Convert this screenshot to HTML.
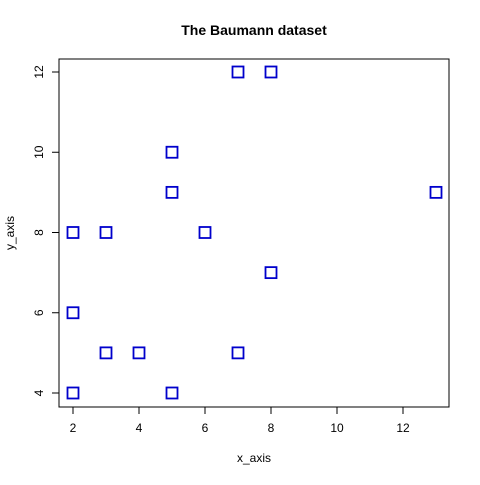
<!DOCTYPE html>
<html><head><meta charset="utf-8"><style>body{margin:0;background:#fff}svg{font-family:"Liberation Sans",sans-serif}</style></head>
<body>
<svg id="c" width="480" height="480">
<rect x="59" y="59" width="390" height="348" fill="none" stroke="#000"/>
<text x="254" y="35" text-anchor="middle" font-weight="bold" font-size="14">The Baumann dataset</text>
<text x="254" y="462" text-anchor="middle" font-size="12">x_axis</text>
<text transform="translate(14,233) rotate(-90)" text-anchor="middle" font-size="12">y_axis</text>
<g id="ax"></g><g id="pts"></g>
</svg>
<script>
const xs=[2,3,4,5,5,5,7,8,6,2,2,3,7,8,13];
const ys=[4,5,5,10,9,4,12,12,8,8,6,8,5,7,9];
const xTicks=[2,4,6,8,10,12];
const yTicks=[4,6,8,10,12];
const X=v=>73+(v-2)*33;
const Y=v=>393-(v-4)*40.125;
const ns="http://www.w3.org/2000/svg";
const ax=document.getElementById('ax'),pts=document.getElementById('pts');
function mk(t,a,p){const e=document.createElementNS(ns,t);for(const k in a)e.setAttribute(k,a[k]);p.appendChild(e);return e;}
mk('line',{x1:X(2),x2:X(12),y1:407,y2:407,stroke:'#000'},ax);
mk('line',{x1:59,x2:59,y1:Y(4),y2:Y(12),stroke:'#000'},ax);
xTicks.forEach(v=>{mk('line',{x1:X(v),x2:X(v),y1:407,y2:414,stroke:'#000'},ax);
const t=mk('text',{x:X(v),y:432,'text-anchor':'middle','font-size':12},ax);t.textContent=v;

});
yTicks.forEach(v=>{mk('line',{x1:52,x2:59,y1:Y(v),y2:Y(v),stroke:'#000'},ax);
const t=mk('text',{transform:`translate(43,${Y(v)}) rotate(-90)`,'text-anchor':'middle','font-size':12},ax);t.textContent=v;

});
xs.forEach((x,i)=>{const r=mk('rect',{x:X(x)-5.5,y:Y(ys[i])-5.5,width:11,height:11,fill:'none',stroke:'#0000cc','stroke-width':1.8},pts);

});
</script>
</body></html>
